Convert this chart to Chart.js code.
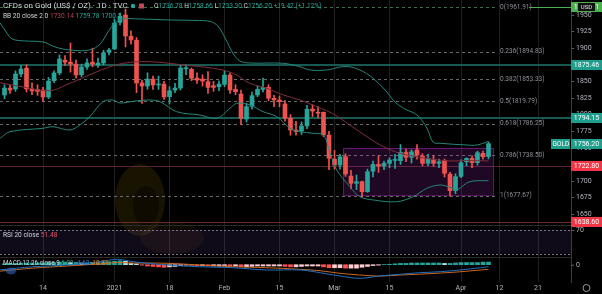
<!DOCTYPE html>
<html>
<head>
<meta charset="utf-8">
<script src="https://cdn.jsdelivr.net/npm/chart.js@4.4.0/dist/chart.umd.min.js"></script>
<style>
  html, body { margin: 0; padding: 0; background: #000; }
  #wrap { width: 602px; height: 294px; }
</style>
</head>
<body>
<div id="wrap"><canvas id="chart"></canvas></div>
<script>
// ---- DATA (bar index 0 = Dec 14 2020, one slot per trading day) ----
const firstIndex = -7;
const opens = [
  1829.5, 1840, 1838.6, 1861, 1870, 1838.6, 1838,
  1837, 1826.5, 1851, 1862.7, 1882, 1879, 1876, 1860, 1871.7, 1879, 1874.7, 1877.7, 1894,
  1898.8, 1939, 1950, 1918, 1912, 1847.6, 1843, 1853.6, 1844.6, 1846,
  1827, 1837, 1840, 1869, 1868.2, 1855, 1853.6, 1849.6, 1843.5, 1842,
  1845.6, 1859.6, 1838, 1831, 1793.3, 1812.5, 1829.5, 1838,
  1841, 1824.6, 1822, 1816, 1794.4, 1776.8, 1775.3, 1783, 1808.4, 1803.5, 1803.5, 1769.3,
  1733, 1724, 1736.6, 1707.5, 1696.5, 1699, 1684, 1714.7, 1725, 1722.6,
  1726.6, 1731, 1730.6, 1743, 1735.7, 1746.7, 1737.7, 1726.6, 1731.6, 1726.6,
  1730.6, 1710.5, 1685.4, 1707, 1729, 1734, 1727.6, 1741.7, 1736.78
];
const highs = [
  1845, 1844, 1866, 1874, 1875, 1848, 1845,
  1841, 1856, 1866, 1890, 1889, 1907.8, 1882, 1876, 1884, 1900, 1885, 1897, 1900,
  1944, 1953, 1959, 1926, 1916, 1852, 1863, 1858, 1858, 1850,
  1842, 1847, 1874, 1875, 1870, 1863, 1860, 1864.7, 1850, 1851,
  1866, 1863, 1845, 1837, 1817, 1834, 1843, 1855,
  1845, 1829, 1828, 1821, 1800, 1790, 1789, 1814, 1815, 1812, 1804, 1775,
  1746, 1740, 1741, 1716, 1709, 1700, 1718, 1730, 1738, 1730,
  1735, 1740, 1755, 1748, 1747, 1755, 1741, 1740, 1738, 1733,
  1733, 1713, 1711, 1732, 1735, 1738, 1745, 1745, 1758.66
];
const lows = [
  1824, 1832, 1835, 1857, 1834, 1830, 1829,
  1820, 1824, 1848, 1860, 1874, 1864, 1855, 1857, 1868, 1872, 1871, 1875, 1890,
  1898, 1935, 1902, 1906, 1833, 1817, 1838, 1838, 1838, 1823,
  1816, 1833, 1837, 1860, 1851, 1847, 1843, 1832, 1835, 1836,
  1842, 1832, 1830, 1785, 1789, 1808, 1827, 1834,
  1821, 1812, 1812, 1790, 1769, 1769, 1770, 1779, 1797, 1795, 1767, 1717,
  1718, 1718, 1707, 1688, 1687, 1676, 1683, 1706, 1713, 1717,
  1720, 1719, 1725, 1729, 1727, 1733, 1723, 1723, 1722, 1720,
  1706, 1677, 1681, 1705, 1723, 1720, 1724, 1733, 1733.3
];
const closes = [
  1840, 1837, 1861.2, 1868.7, 1838.6, 1835.6, 1835,
  1826.5, 1850.6, 1862.7, 1883.7, 1879, 1876, 1859.7, 1871.7, 1877.7, 1876, 1877.7, 1892.8, 1897.3,
  1938, 1948, 1918.4, 1912.4, 1847.6, 1843, 1853.6, 1844.6, 1846, 1826.5,
  1836, 1840, 1870, 1870.5, 1854.7, 1852, 1850.6, 1841, 1841, 1846,
  1859.6, 1837, 1834.5, 1794.4, 1812, 1828.5, 1838, 1841,
  1824.6, 1822, 1819.5, 1794.4, 1776.8, 1774.3, 1782.8, 1808, 1805.4, 1802, 1769.3, 1734.2,
  1724, 1736.6, 1710.5, 1696.5, 1699, 1684, 1714, 1725, 1722.6, 1726.6,
  1731.6, 1731.5, 1743.2, 1735.7, 1744, 1739.2, 1726.6, 1734, 1726.6, 1729,
  1711.6, 1685.4, 1706.5, 1727.6, 1734, 1727.6, 1742.7, 1736.6, 1756.2
];

// Bollinger bands (20, 2)
const bbUpperX = [-7.8, -6.7, -5.6, -3.3, 0, 2.2, 4.9, 8.5, 10.4, 11.8, 13.1, 14.4, 17.6, 23.1, 28.5, 30.4, 31.8, 33.3, 34.5, 35.8, 37.6, 43.6, 46.7, 48.5, 51.6, 54.5, 56.7, 59.5, 62.2, 64, 65.8, 68, 69.8, 70.9, 72.2, 77.1, 78.9, 81];
const bbUpper = [1938, 1924.4, 1913.9, 1910.9, 1909.4, 1901.8, 1897.3, 1897.3, 1906.3, 1924.4, 1938, 1944, 1944, 1942.5, 1941.7, 1940.2, 1933.4, 1912.4, 1892.8, 1880.7, 1877.7, 1877.3, 1872.2, 1867.2, 1867.2, 1872.2, 1870.2, 1858.1, 1837, 1819, 1808.5, 1799.4, 1779.8, 1758.7, 1756.8, 1754.2, 1754.2, 1759.78];
const bbBasisX = [-7.8, -3.3, 1.3, 4.3, 9.1, 12.2, 14.6, 17.6, 21.3, 25.5, 31, 34.6, 37.6, 40.7, 43.7, 46.7, 49.8, 52.8, 55.8, 58.9, 61.9, 64.9, 67.9, 71, 74, 77, 81];
const bbBasis = [1848, 1841, 1836, 1845, 1862.2, 1872.2, 1877.3, 1879.7, 1878.8, 1874.7, 1869.7, 1862.2, 1847.2, 1839.6, 1829.5, 1822, 1811.9, 1800.9, 1784.4, 1766.7, 1751.7, 1741.7, 1736.6, 1732.7, 1730.1, 1730.9, 1730.14];
const bbLowerX = [-7.8, -6, 0, 1.8, 4.9, 6.7, 8.5, 10.9, 12.7, 14, 16.7, 19.5, 21.3, 24.3, 28.5, 31.6, 34, 35.2, 37.6, 40, 42.5, 44.9, 46.7, 49.1, 51, 52.2, 53.4, 55.8, 57.6, 60.1, 64.3, 67.3, 69.8, 72.2, 74, 75.2, 77, 78.2, 81];
const bbLower = [1764.3, 1774.3, 1779.4, 1781.8, 1776.8, 1784.4, 1796.8, 1819.4, 1822, 1817.5, 1820.5, 1822, 1819.4, 1804.4, 1799.4, 1794.5, 1809.5, 1817, 1814.5, 1804.4, 1796.9, 1779.4, 1774.3, 1771.9, 1769.3, 1741.7, 1716.6, 1691.4, 1676.4, 1671.4, 1668.8, 1676.4, 1689, 1694, 1690.5, 1686.5, 1696.6, 1700, 1700.5];

// RSI 20
const rsiX = [-7.8, -5.4, -3, -0.5, 1.3, 3.1, 5.5, 8, 10.4, 12.7, 14, 15.3, 16.4, 18.2, 20.7, 22.5, 24.9, 26.7, 28.5, 30.9, 33.5, 35.8, 37.6, 40, 42.5, 44.9, 46.7, 48.5, 50.4, 52.2, 54, 55.8, 57.6, 59.5, 61.3, 63.1, 64.9, 66.7, 68.5, 70.4, 72.2, 74, 75.8, 77.6, 79.5, 81];
const rsiVals = [48.6, 53.1, 52.6, 51.4, 48.6, 51.4, 54.3, 56.1, 54.3, 61.3, 64.8, 60.1, 49.7, 47.4, 45.7, 45.1, 47.4, 49.7, 47.4, 48.6, 45.7, 38.2, 45.7, 48.6, 45.7, 39.9, 37.6, 35.7, 39.9, 33, 37, 32.3, 31.2, 37, 39.9, 39.9, 42.7, 45.7, 42.7, 43.9, 41.7, 35.7, 45.7, 47.4, 48.6, 51.48];

// MACD 12 26 9
const macdX = [-7.8, -1.8, 4.4, 10.4, 13.5, 16.4, 22.5, 28.5, 34.5, 40.7, 46.7, 50.4, 54, 57.6, 61.3, 64.9, 68.5, 72.2, 75.8, 79.5, 81];
const macdVals = [-12, -4.7, -0.7, 7, 12.6, 7, -0.7, -4.7, -7, -12.3, -12.3, -18.6, -26.3, -31.6, -26, -22.3, -18.6, -16.3, -12.3, -7, -4.62];
const signalVals = [-15, -8, -3, 2, 5, 4, 3.3, -0.7, -4.7, -7, -10.7, -14, -20, -24, -26.5, -24, -22, -19.5, -16.5, -12.3, -10.71];
const histVals = [
  2, 3, 3, 4, 4, 4, 4,
  4, 5, 5, 6, 6, 5, 5, 4, 4, 5, 5, 6, 7,
  8, 9, 8, 3, 2, -1, -3, -4, -5, -6,
  -5, -4, -2, -1, -1, -2, -2, -3, -3, -3,
  -2, -3, -3, -5, -5, -4, -3, -3,
  -3, -3, -3, -4, -5, -5, -4, -3, -3, -3, -5, -7,
  -7, -7, -8, -8, -8, -6, -4, -2, -1, 0.5,
  1, 2, 3, 3, 4, 4, 4, 4, 4, 4,
  3, 3, 4, 5, 5, 5, 5, 6, 6.09
];

// axes
const xTickIdx = [0, 13, 23, 33, 43, 53, 63, 76, 83, 90];
const xTickText = ['14', '2021', '18', 'Feb', '15', 'Mar', '15', 'Apr', '12', '21'];
const priceTicks = [1650, 1675, 1700, 1725, 1750, 1775, 1800, 1825, 1850, 1875, 1900, 1925, 1950, 1975];

// drawings
const fibRatios = ['0', '0.236', '0.382', '0.5', '0.618', '0.786', '1'];
const fibPrices = [1961.91, 1894.83, 1853.33, 1819.79, 1786.25, 1738.50, 1677.67];
const levelPrices = [1875.46, 1794.15, 1722.80, 1638.60];
const boxIdx = [54.6, 81.9];
const boxPrices = [1750.2, 1679];

// ---- COLORS ----
const teal = '#26a69a';
const red = '#ef5350';
const FONT = 'Roboto, "Noto Sans", sans-serif';
Chart.defaults.font.family = FONT;

const idx = opens.map((_, k) => firstIndex + k);
const candleCol = opens.map((o, k) => closes[k] >= o ? teal : red);
const histCol = histVals.map((h, k) => {
  const prev = k > 0 ? histVals[k - 1] : h;
  if (h >= 0) return h >= prev ? '#26a69a' : '#b2dfdb';
  return h < prev ? '#ff5252' : '#ffcdd2';
});
const pairs = (xs, ys) => xs.map((x, k) => ({x: x, y: ys[k]}));

// pane geometry (px)
const PRICE_PX = 0.664;   // px per dollar
const PRICE_TOP = 1972.6;
const RSI70 = 230, RSI30 = 253.5;
const MACD0 = 264.7, MACD_PX = 0.43;
const AREA_H = 282;

// ---- EXTRA DRAWING ----
const overlay = {
  id: 'overlay',
  beforeDraw(chart) {
    const c = chart.ctx;
    c.save();
    c.fillStyle = '#000';
    c.fillRect(0, 0, chart.width, chart.height);
    c.restore();
  },
  beforeDatasetsDraw(chart) {
    const c = chart.ctx;
    const {x, y, rsi} = chart.scales;
    const L = chart.chartArea.left, R = chart.chartArea.right;
    c.save();

    // faint watermark
    c.fillStyle = 'rgba(125, 95, 10, 0.2)';
    c.beginPath();
    c.ellipse(140, 200, 25, 36, 0, 0, Math.PI * 2);
    c.fill();
    c.fillStyle = 'rgba(125, 95, 10, 0.1)';
    c.beginPath();
    c.ellipse(172, 238, 32, 16, 0, 0, Math.PI * 2);
    c.fill();
    c.fillStyle = 'rgba(0, 0, 0, 0.4)';
    c.beginPath();
    c.ellipse(146, 206, 13, 20, 0, 0, Math.PI * 2);
    c.fill();

    // pane separators
    c.strokeStyle = '#2a2a2a';
    c.lineWidth = 1;
    [225.5, 257.5].forEach(py => {
      c.beginPath(); c.moveTo(L, py); c.lineTo(R, py); c.stroke();
    });

    // RSI band
    const r70 = rsi.getPixelForValue(70), r30 = rsi.getPixelForValue(30);
    c.fillStyle = 'rgba(126, 87, 194, 0.13)';
    c.fillRect(L, r70, R - L, r30 - r70);
    c.strokeStyle = '#7d7391';
    c.setLineDash([2, 2]);
    [r70, r30].forEach(py => {
      c.beginPath(); c.moveTo(L, Math.round(py) + 0.5); c.lineTo(R, Math.round(py) + 0.5); c.stroke();
    });

    // fib dashed lines
    const fibEnd = 497;
    c.setLineDash([3, 3]);
    fibPrices.forEach((p, k) => {
      const py = Math.round(y.getPixelForValue(p)) + 0.5;
      c.strokeStyle = k === 0 ? '#3f6e4a' : '#6a6a6a';
      c.beginPath(); c.moveTo(L, py); c.lineTo(fibEnd, py); c.stroke();
    });
    c.setLineDash([]);
    const p0 = Math.round(y.getPixelForValue(fibPrices[0])) + 0.5;
    c.strokeStyle = '#4caf50';
    c.beginPath(); c.moveTo(529, p0); c.lineTo(R, p0); c.stroke();

    // horizontal levels
    const lvlCol = ['#175a52', '#175a52', '#5a2431', '#6a2c22'];
    levelPrices.forEach((p, k) => {
      const py = Math.round(y.getPixelForValue(p));
      c.strokeStyle = lvlCol[k];
      c.lineWidth = k < 2 ? 2 : 1;
      c.beginPath(); c.moveTo(L, k < 2 ? py : py + 0.5); c.lineTo(R, k < 2 ? py : py + 0.5); c.stroke();
    });

    // rectangle
    const bx1 = x.getPixelForValue(boxIdx[0]), bx2 = x.getPixelForValue(boxIdx[1]);
    const by1 = y.getPixelForValue(boxPrices[0]), by2 = y.getPixelForValue(boxPrices[1]);
    c.lineWidth = 1;
    c.fillStyle = 'rgba(156, 39, 176, 0.2)';
    c.fillRect(bx1, by1, bx2 - bx1, by2 - by1);
    c.strokeStyle = 'rgba(156, 39, 176, 0.55)';
    c.strokeRect(Math.round(bx1) + 0.5, Math.round(by1) + 0.5, Math.round(bx2 - bx1), Math.round(by2 - by1));
    c.restore();
  },
  afterDraw(chart) {
    const c = chart.ctx;
    const {y} = chart.scales;
    const R = chart.chartArea.right;
    c.save();
    c.textBaseline = 'middle';

    // fib labels
    c.font = '6.5px ' + FONT;
    c.fillStyle = '#8f9199';
    fibPrices.forEach((p, k) => {
      c.fillText(fibRatios[k] + '(' + p.toFixed(2) + ')', 500, y.getPixelForValue(p));
    });

    // texts in a row
    const row = (parts, x0, yy, size) => {
      c.font = size + 'px ' + FONT;
      let xx = x0;
      parts.forEach(([t, col]) => {
        c.fillStyle = col;
        c.fillText(t, xx, yy);
        xx += c.measureText(t).width;
      });
    };
    const fg = '#d1d4dc';
    row([['CFDs on Gold (US$ / OZ) · 1D · TVC', fg]], 3, 6, 8);
    c.fillStyle = teal;
    c.beginPath(); c.arc(133, 6, 2.2, 0, Math.PI * 2); c.fill();
    c.fillStyle = '#c2455a';
    c.fillRect(139, 3.5, 5, 5);
    row([['O', fg], ['1736.78 ', teal], ['H', fg], ['1758.66 ', teal], ['L', fg], ['1733.30 ', teal],
         ['C', fg], ['1756.20 ', teal], ['+19.42 (+1.12%)', teal]], 154, 6, 6.6);
    row([['BB 20 close 2 0 ', fg], ['1730.14 ', '#b5434f'], ['1759.78 ', teal], ['1700.5', teal]], 3, 16, 6.6);
    row([['RSI 20 close ', fg], ['51.48', '#e0566a']], 3, 235, 6.6);
    row([['MACD 12 26 close 9 ', fg], ['6.09 ', teal], ['-4.62 ', '#2f7fd6'], ['-10.71', '#e0822c']], 3, 263, 6.3);
    c.fillStyle = 'rgba(47, 110, 200, 0.55)';
    c.beginPath(); c.ellipse(11, 271, 5, 3.5, 0, 0, Math.PI * 2); c.fill();

    // axis tags
    const tag = (py, bgc, txt) => {
      py = Math.round(py);
      c.fillStyle = bgc;
      c.fillRect(R, py - 5, 31, 10);
      c.fillStyle = '#fff';
      c.font = '7px ' + FONT;
      c.textAlign = 'center';
      c.fillText(txt, R + 15.5, py + 0.5);
      c.textAlign = 'left';
    };
    tag(y.getPixelForValue(fibPrices[0]), '#4caf50', '1961.91');
    c.fillStyle = '#111';
    c.fillRect(R + 7, 3, 17, 8);
    c.fillStyle = '#e0e0e0';
    c.font = '6px ' + FONT;
    c.textAlign = 'center';
    c.fillText('USD', R + 15.5, 7.5);
    c.textAlign = 'left';
    tag(y.getPixelForValue(levelPrices[0]), '#1f9e8d', '1875.46');
    tag(y.getPixelForValue(levelPrices[1]), '#1f9e8d', '1794.15');
    tag(y.getPixelForValue(closes[closes.length - 1]), '#1f9e8d', '1756.20');
    tag(y.getPixelForValue(levelPrices[2]), '#f23645', '1722.80');
    tag(y.getPixelForValue(levelPrices[3]), '#f23645', '1638.60');
    const gy = Math.round(y.getPixelForValue(closes[closes.length - 1]));
    c.fillStyle = '#1f9e8d';
    c.fillRect(R - 20, gy - 5, 19, 10);
    c.fillStyle = '#fff';
    c.font = '6.5px ' + FONT;
    c.fillText('GOLD', R - 18.5, gy + 0.5);

    // sub-pane axis labels
    c.fillStyle = '#b2b5be';
    c.font = '7px ' + FONT;
    c.fillText('70', R + 5, RSI70 + 0.5);
    c.fillText('0', R + 5, MACD0 + 1);
    c.strokeStyle = '#5d606b';
    c.beginPath(); c.moveTo(R, RSI70 + 0.5); c.lineTo(R + 3, RSI70 + 0.5); c.stroke();
    c.beginPath(); c.moveTo(R, MACD0 + 0.5); c.lineTo(R + 3, MACD0 + 0.5); c.stroke();

    // settings gear
    c.strokeStyle = '#9598a1';
    c.lineWidth = 1;
    c.beginPath(); c.arc(586.5, 288, 3.5, 0, Math.PI * 2); c.stroke();
    c.restore();
  }
};

// ---- CHART ----
const lineDs = (data, color, axis) => ({
  type: 'line', data: data, borderColor: color, borderWidth: 1,
  pointRadius: 0, tension: 0.35, yAxisID: axis, order: 0
});

new Chart(document.getElementById('chart'), {
  type: 'line',
  data: {
    datasets: [
      lineDs(pairs(bbUpperX, bbUpper), '#23867a', 'y'),
      lineDs(pairs(bbBasisX, bbBasis), '#7e2f3d', 'y'),
      lineDs(pairs(bbLowerX, bbLower), '#23867a', 'y'),
      {
        type: 'bar', label: 'body', yAxisID: 'y', order: 1,
        data: idx.map((v, k) => ({x: v, y: [opens[k], closes[k]]})),
        backgroundColor: candleCol, barThickness: 4, minBarLength: 1, grouped: false
      },
      {
        type: 'bar', label: 'wick', yAxisID: 'y', order: 2,
        data: idx.map((v, k) => ({x: v, y: [lows[k], highs[k]]})),
        backgroundColor: candleCol, barThickness: 1, grouped: false
      },
      lineDs(pairs(rsiX, rsiVals), '#b0354f', 'rsi'),
      lineDs(pairs(macdX, macdVals), '#1f6fc0', 'macd'),
      lineDs(pairs(macdX, signalVals), '#c9671e', 'macd'),
      {
        type: 'bar', label: 'hist', yAxisID: 'macd', order: 3,
        data: idx.map((v, k) => ({x: v, y: histVals[k]})),
        backgroundColor: histCol, barThickness: 4, grouped: false
      }
    ]
  },
  options: {
    responsive: true,
    maintainAspectRatio: false,
    animation: false,
    events: [],
    layout: { padding: 0 },
    plugins: { legend: { display: false }, tooltip: { enabled: false } },
    scales: {
      x: {
        type: 'linear', min: -7.82, max: 96, offset: false,
        afterBuildTicks: s => { s.ticks = xTickIdx.map(v => ({value: v})); },
        afterFit: s => { s.height = 12; s.paddingLeft = 0; s.paddingRight = 0; },
        grid: { color: '#1f1f1f', drawTicks: false, offset: false },
        border: { display: false },
        ticks: {
          color: '#b2b5be', font: { size: 7 }, padding: 2, maxRotation: 0, autoSkip: false,
          callback: (v, k) => xTickText[k]
        }
      },
      y: {
        position: 'right',
        min: PRICE_TOP - AREA_H / PRICE_PX, max: PRICE_TOP,
        afterBuildTicks: s => { s.ticks = priceTicks.map(v => ({value: v})); },
        afterFit: s => { s.width = 31; s.paddingTop = 0; s.paddingBottom = 0; },
        grid: { drawOnChartArea: false, drawTicks: true, tickLength: 3, color: '#5d606b' },
        border: { color: '#3a3a3a' },
        ticks: { color: '#b2b5be', font: { size: 7 }, padding: 2, callback: v => String(v) }
      },
      rsi: {
        display: false,
        max: 70 + RSI70 * 40 / (RSI30 - RSI70),
        min: 30 - (AREA_H - RSI30) * 40 / (RSI30 - RSI70)
      },
      macd: {
        display: false,
        max: MACD0 / MACD_PX,
        min: -(AREA_H - MACD0) / MACD_PX
      }
    }
  },
  plugins: [overlay]
});
</script>
</body>
</html>
